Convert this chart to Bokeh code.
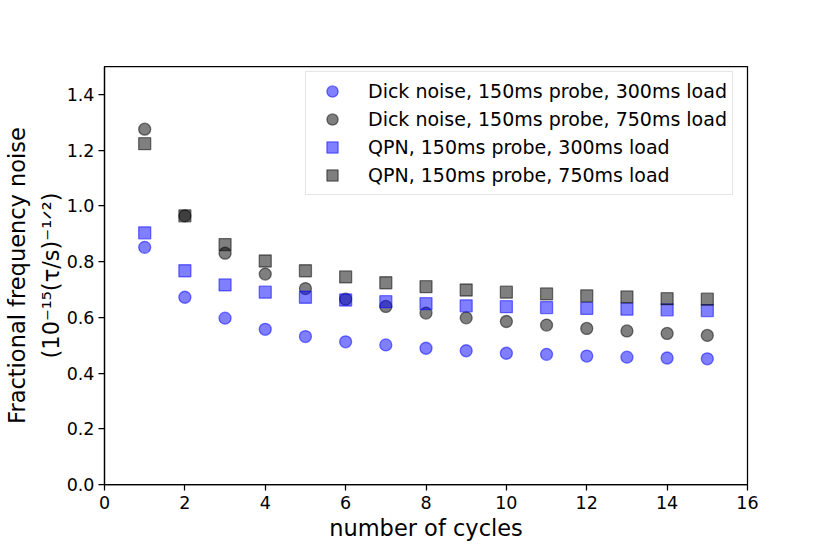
from bokeh.plotting import figure
from bokeh.models import FixedTicker, Range1d
from bokeh.embed import file_html
from bokeh.resources import INLINE

# ---- data ----
cycles = [1, 2, 3, 4, 5, 6, 7, 8, 9, 10, 11, 12, 13, 14, 15]
dick_300 = [0.851, 0.672, 0.597, 0.557, 0.531, 0.512, 0.501, 0.489, 0.480, 0.471, 0.467, 0.461, 0.457, 0.454, 0.451]
dick_750 = [1.275, 0.964, 0.830, 0.755, 0.703, 0.665, 0.639, 0.615, 0.598, 0.585, 0.572, 0.560, 0.551, 0.542, 0.535]
qpn_300 = [0.903, 0.767, 0.716, 0.690, 0.672, 0.662, 0.656, 0.649, 0.641, 0.638, 0.635, 0.632, 0.629, 0.627, 0.624]
qpn_750 = [1.223, 0.964, 0.861, 0.802, 0.767, 0.745, 0.724, 0.710, 0.698, 0.690, 0.684, 0.677, 0.673, 0.667, 0.665]

series_labels = [
    "Dick noise, 150ms probe, 300ms load",
    "Dick noise, 150ms probe, 750ms load",
    "QPN, 150ms probe, 300ms load",
    "QPN, 150ms probe, 750ms load",
]
x_ticks = [0, 2, 4, 6, 8, 10, 12, 14, 16]
x_tick_labels = ["0", "2", "4", "6", "8", "10", "12", "14", "16"]
y_ticks = [0.0, 0.2, 0.4, 0.6, 0.8, 1.0, 1.2, 1.4]
y_tick_labels = ["0.0", "0.2", "0.4", "0.6", "0.8", "1.0", "1.2", "1.4"]
x_label = "number of cycles"
y_label = "Fractional frequency noise\n(10\u207b\u00b9\u2075(\u03c4/s)\u207b\u00b9\u141f\u00b2)"

FONT = "DejaVu Sans"

# ---- layout (page pixels) ----
FL, FT, FW, FH = 104, 66, 643, 418
XMIN, XMAX, YMIN, YMAX = 0, 16, 0, 1.5

p = figure(
    frame_width=FW, frame_height=FH,
    min_border_left=FL, min_border_top=FT,
    min_border_right=75, min_border_bottom=61,
    x_range=Range1d(XMIN, XMAX), y_range=Range1d(YMIN, YMAX),
    output_backend="svg", toolbar_location=None,
    background_fill_color="white", border_fill_color="white",
)
p.grid.visible = False
p.outline_line_color = "black"
p.outline_line_width = 1.25

for ax in (p.xaxis[0], p.yaxis[0]):
    ax.axis_line_width = 1.25
    ax.major_tick_line_width = 1.25
    ax.major_tick_out = 6
    ax.major_tick_in = 0
    ax.minor_tick_line_color = None
    ax.major_label_text_font = FONT
    ax.major_label_text_font_size = "17.5px"
    ax.major_label_text_color = "black"
    ax.axis_label_text_font = FONT
    ax.axis_label_text_font_size = "22.5px"
    ax.axis_label_text_font_style = "normal"
    ax.axis_label_text_color = "black"

p.xaxis.ticker = FixedTicker(ticks=x_ticks)
p.xaxis.major_label_overrides = {t: s for t, s in zip(x_ticks, x_tick_labels)}
p.yaxis.ticker = FixedTicker(ticks=y_ticks)
p.yaxis.major_label_overrides = {t: s for t, s in zip(y_ticks, y_tick_labels)}
p.xaxis.major_label_standoff = 5
p.yaxis.major_label_standoff = 4
p.xaxis.axis_label = x_label
p.xaxis.axis_label_standoff = 3
p.yaxis.axis_label = y_label
p.yaxis.axis_label_standoff = 0
p.yaxis.axis_label_text_line_height = 1.3

styles = [
    ("circle", "blue", dick_300),
    ("circle", "black", dick_750),
    ("square", "blue", qpn_300),
    ("square", "black", qpn_750),
]
for (marker, color, vals), lab in zip(styles, series_labels):
    p.scatter(cycles, vals, marker=marker, size=12, fill_color=color, line_color=color,
              fill_alpha=0.5, line_alpha=0.5, line_width=1.3, legend_label=lab)

lg = p.legend[0]
lg.location = (305 - FL, FT + FH - 195)
lg.padding = 5
lg.spacing = 0
lg.glyph_height = 28
lg.glyph_width = 42
lg.label_height = 28
lg.label_standoff = 15
lg.label_text_font = FONT
lg.label_text_font_size = "19px"
lg.label_text_color = "black"
lg.border_line_color = "#cccccc"
lg.border_line_width = 1.2
lg.background_fill_alpha = 0.8

open("out.html", "w").write(file_html(p, INLINE))
